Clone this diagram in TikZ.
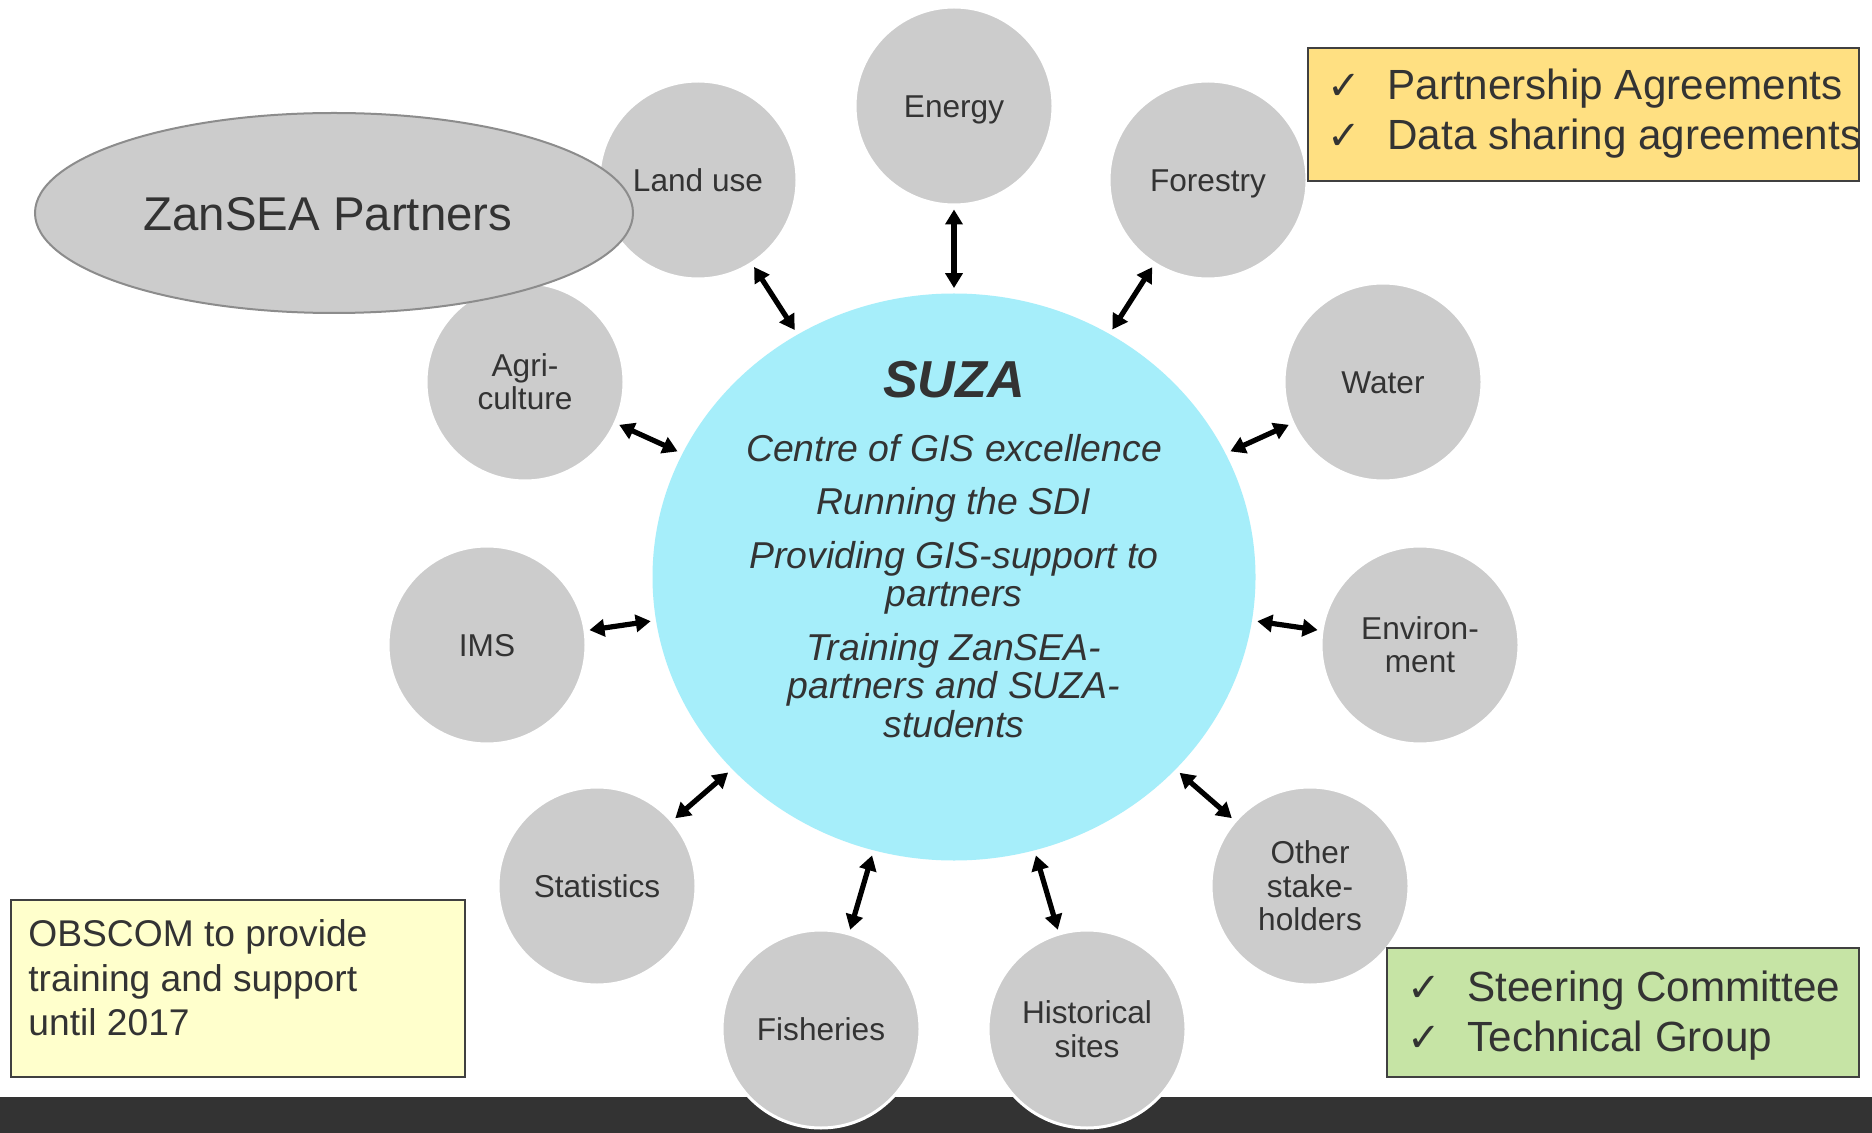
\documentclass[tikz,border=0pt]{standalone}
\usepackage{fontspec}
\setmainfont{Liberation Sans}
\newfontfamily\symfont{DejaVu Sans}
\usetikzlibrary{shapes.geometric,arrows.meta}

\definecolor{txt}{HTML}{333333}
\definecolor{circgray}{HTML}{CCCCCC}
\definecolor{hubcyan}{HTML}{A6EEFA}
\definecolor{ovalline}{HTML}{8C8C8C}
\definecolor{boxline}{HTML}{404040}
\definecolor{agreeyellow}{HTML}{FFE082}
\definecolor{noteyellow}{HTML}{FFFFCC}
\definecolor{groupgreen}{HTML}{C6E4A5}
\definecolor{footer}{HTML}{333333}

\begin{document}
\begin{tikzpicture}[x=0.5pt,y=-0.5pt,
  partner/.style={circle, fill=circgray, draw=white, line width=1.5pt,
    minimum size=99pt, inner sep=0pt, align=center, text=txt,
    font=\fontsize{15.8}{16.7}\selectfont},
  oneline/.style={text height=11.4pt, text depth=0pt},
  hub/.style={ellipse, fill=hubcyan, minimum width=301.5pt,
    minimum height=283.5pt, inner sep=0pt},
  hubtext/.style={anchor=base, inner sep=0pt, text=txt,
    font=\fontsize{18.7}{19}\selectfont\itshape},
  link/.style={{Triangle[length=7.5pt,width=8.5pt]}-{Triangle[length=7.5pt,width=8.5pt]},
    line width=2.6pt, shorten >=1.5pt, shorten <=2.5pt},
  infobox/.style={draw=boxline, line width=0.9pt, inner sep=0pt},
  boxtext/.style={anchor=base west, inner sep=0pt, text=txt},
  tick/.style={anchor=base west, inner sep=0pt, text=txt,
    font=\symfont\fontsize{20}{22}\selectfont},
]
\useasboundingbox (0,0) rectangle (1872,1133);
\fill[white] (0,0) rectangle (1872,1133);

% footer band
\fill[footer] (0,1097) rectangle (1872,1133);

% partner circles
\node[partner, oneline] (energy)   at (954,106)  {Energy};
\node[partner, oneline] (landuse)  at (698,180)  {Land use};
\node[partner, oneline] (forestry) at (1208,180) {Forestry};
\node[partner] (agri)     at (525,382)  {Agri-\\culture};
\node[partner, oneline] (water)    at (1383,382) {Water};
\node[partner, oneline] (ims)      at (487,645)  {IMS};
\node[partner] (env)      at (1420,645) {Environ-\\ment};
\node[partner, oneline] (stats)    at (597,886)  {Statistics};
\node[partner] (other)    at (1310,886) {Other\\stake-\\holders};
\node[partner, oneline] (fish)     at (821,1029) {Fisheries};
\node[partner] (hist)     at (1087,1029) {Historical\\sites};

% central hub
\node[hub] (suza) at (954,577) {};
\node[anchor=base, inner sep=0pt, text=txt,
  font=\fontsize{26}{28}\selectfont\bfseries\itshape] (suzaname) at (954,398) {SUZA};
\node[hubtext] (role1)  at (954,462) {Centre of GIS excellence};
\node[hubtext] (role2)  at (954,515) {Running the SDI};
\node[hubtext] (role3a) at (954,568) {Providing GIS-support to};
\node[hubtext] (role3b) at (954,606) {partners};
\node[hubtext] (role4a) at (954,660) {Training ZanSEA-};
\node[hubtext] (role4b) at (954,698) {partners and SUZA-};
\node[hubtext] (role4c) at (954,737) {students};

% partners label oval
\node[ellipse, fill=circgray, draw=ovalline, line width=1pt,
  minimum width=299pt, minimum height=100pt, inner sep=0pt] (zansea) at (334,213) {};
\node[inner sep=0pt, text=txt, font=\fontsize{23.7}{26}\selectfont]
  (zanseaname) at (328,214) {ZanSEA Partners};

% links between hub and partners
\foreach \p in {energy,landuse,forestry,agri,water,ims,env,stats,other,fish,hist}
  \draw[link] (suza) -- (\p);

% agreements box
\node[infobox, fill=agreeyellow, minimum width=275.5pt, minimum height=66.5pt,
  anchor=north west] (agree) at (1307,47) {};
\node[tick] (agreetick1) at (1327,100) {✓};
\node[tick] (agreetick2) at (1327,150) {✓};
\node[boxtext, font=\fontsize{21.1}{25}\selectfont] (agree1) at (1387,100) {Partnership Agreements};
\node[boxtext, font=\fontsize{21.1}{25}\selectfont] (agree2) at (1387,150) {Data sharing agreements};

% training note
\node[infobox, fill=noteyellow, minimum width=227pt, minimum height=88.5pt,
  anchor=north west] (note) at (10,899) {};
\node[boxtext, font=\fontsize{18.6}{22}\selectfont] (note1) at (28,946) {OBSCOM to provide};
\node[boxtext, font=\fontsize{18.6}{22}\selectfont] (note2) at (28,991) {training and support};
\node[boxtext, font=\fontsize{18.6}{22}\selectfont] (note3) at (28,1035) {until 2017};

% governance box
\node[infobox, fill=groupgreen, minimum width=236pt, minimum height=64.5pt,
  anchor=north west] (groups) at (1386,947) {};
\node[tick] (grouptick1) at (1407,1001) {✓};
\node[tick] (grouptick2) at (1407,1051) {✓};
\node[boxtext, font=\fontsize{21.1}{25}\selectfont] (group1) at (1467,1001) {Steering Committee};
\node[boxtext, font=\fontsize{21.1}{25}\selectfont] (group2) at (1467,1051) {Technical Group};
\end{tikzpicture}
\end{document}
